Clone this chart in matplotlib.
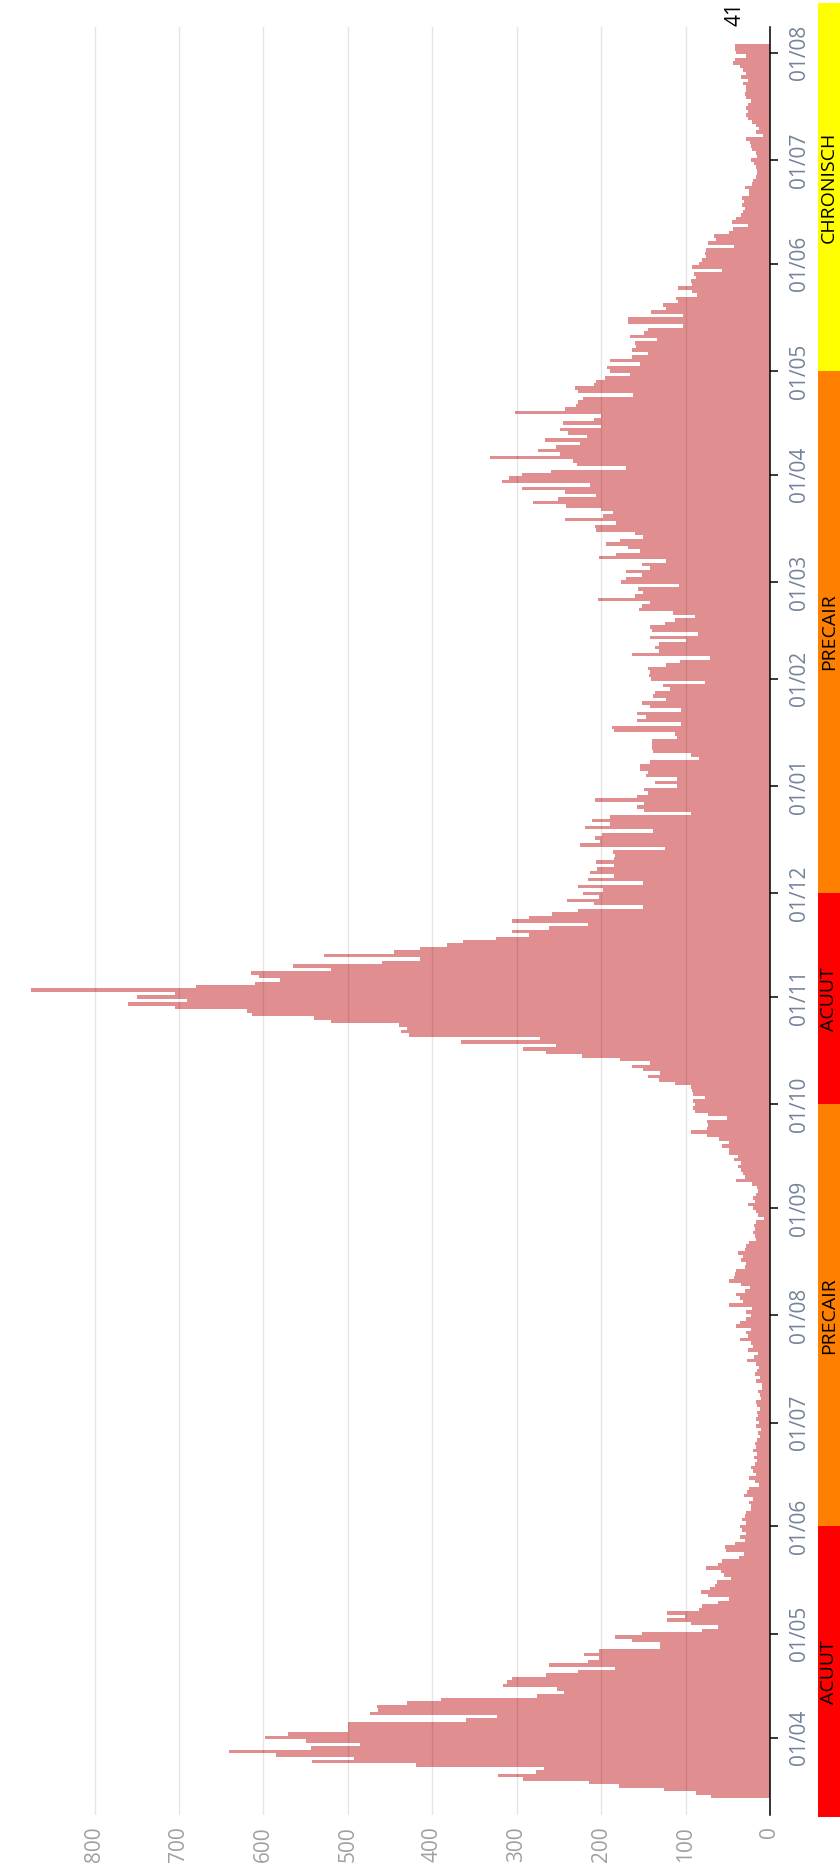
import datetime as dt
import numpy as np
import matplotlib
matplotlib.use("Agg")
import matplotlib.pyplot as plt
import matplotlib.dates as mdates

plt.rcParams['font.family'] = ['Open Sans', 'DejaVu Sans']

# daily new hospital admissions, first value = 15/03/2020
adm_2020_03 = [70, 88, 125, 179, 214, 293, 322, 277, 268, 419, 542, 493, 585, 641, 544, 486, 549]
adm_2020_04 = [598, 571, 500, 500, 500, 360, 323, 474, 464, 466, 430, 390, 276, 244, 252,
               316, 312, 305, 265, 227, 183, 262, 215, 203, 220, 203, 130, 130, 163, 184]
adm_2020_05 = [152, 81, 62, 93, 122, 101, 122, 84, 81, 62, 48, 74, 82, 71, 65, 63,
               46, 55, 58, 76, 62, 57, 37, 31, 52, 53, 42, 30, 35, 29, 33]
adm_2020_06 = [35, 29, 33, 30, 28, 23, 22, 25, 20, 31, 27, 25, 13, 18, 25,
               17, 20, 22, 18, 15, 19, 15, 20, 17, 18, 15, 12, 14, 11, 16]
adm_2020_07 = [13, 17, 14, 15, 12, 15, 17, 11, 12, 14, 9, 10, 16, 12, 18, 15,
               13, 17, 27, 19, 14, 26, 20, 23, 35, 26, 28, 22, 40, 36, 28]
adm_2020_08 = [22, 28, 21, 49, 32, 36, 40, 30, 24, 34, 49, 43, 41, 40, 30, 28,
               34, 32, 38, 30, 29, 25, 16, 18, 20, 18, 19, 16, 7, 14, 17]
adm_2020_09 = [20, 26, 18, 20, 16, 14, 15, 21, 40, 30, 32, 34, 38, 34, 43,
               38, 49, 49, 57, 49, 60, 75, 93, 75, 73, 75, 51, 73, 89, 91]
adm_2020_10 = [89, 91, 77, 91, 92, 93, 113, 131, 144, 130, 151, 164, 142, 178, 223, 265,
               292, 253, 366, 273, 427, 437, 430, 440, 520, 540, 613, 620, 705, 760, 690]
adm_2020_11 = [750, 705, 875, 680, 610, 580, 605, 615, 520, 565, 460, 415, 528, 445, 415,
               382, 364, 325, 286, 305, 262, 215, 305, 286, 258, 227, 151, 209, 240, 203]
adm_2020_12 = [221, 198, 227, 150, 215, 185, 213, 205, 185, 206, 185, 183, 186, 124, 225, 201,
               207, 199, 138, 219, 189, 211, 189, 94, 149, 158, 149, 207, 157, 145, 149]
adm_2021_01 = [110, 136, 110, 147, 145, 154, 154, 142, 84, 94, 138, 140, 140, 140, 110, 112,
               185, 187, 105, 158, 147, 157, 105, 142, 152, 123, 138, 136, 119, 127, 77]
adm_2021_02 = [141, 143, 142, 144, 123, 107, 71, 163, 132, 136, 131, 99, 142, 85,
               140, 142, 124, 113, 89, 115, 155, 152, 142, 204, 160, 150, 156, 108]
adm_2021_03 = [176, 171, 152, 171, 142, 152, 123, 202, 182, 154, 168, 194, 178, 150, 160, 206,
               207, 182, 243, 198, 186, 200, 242, 281, 251, 206, 243, 294, 213, 318, 309]
adm_2021_04 = [294, 259, 171, 229, 233, 332, 249, 275, 254, 225, 266, 217, 239, 249, 200,
               245, 209, 200, 302, 243, 230, 227, 222, 162, 227, 231, 209, 206, 196, 166]
adm_2021_05 = [190, 193, 154, 190, 164, 144, 163, 159, 160, 134, 166, 149, 144, 103, 168, 168,
               103, 141, 123, 127, 109, 111, 86, 92, 109, 92, 94, 88, 90, 57, 92]
adm_2021_06 = [84, 80, 76, 77, 76, 43, 74, 64, 66, 48, 44, 26, 45, 40, 34,
               32, 30, 33, 31, 33, 25, 25, 30, 21, 20, 17, 15, 15, 17, 19]
adm_2021_07 = [23, 15, 17, 21, 23, 24, 28, 8, 17, 13, 17, 21, 26, 28, 26, 28,
               26, 23, 28, 30, 28, 28, 32, 26, 34, 28, 32, 36, 44, 42, 28]
adm_2021_08 = [40, 42, 41]

phase_names = ['ACUUT', 'PRECAIR', 'ACUUT', 'PRECAIR', 'CHRONISCH']
phase_starts = ['2020-03-15', '2020-06-01', '2020-10-01', '2020-12-01', '2021-05-01']
phase_colors = ['#ff0000', '#ff8000', '#ff0000', '#ff8000', '#ffff00']

values = np.array(adm_2020_03 + adm_2020_04 + adm_2020_05 + adm_2020_06 + adm_2020_07
                  + adm_2020_08 + adm_2020_09 + adm_2020_10 + adm_2020_11 + adm_2020_12
                  + adm_2021_01 + adm_2021_02 + adm_2021_03 + adm_2021_04 + adm_2021_05
                  + adm_2021_06 + adm_2021_07 + adm_2021_08)
start = dt.date(2020, 3, 15)
days = [start + dt.timedelta(days=i) for i in range(len(values))]
yd = mdates.date2num(days)

W, H = 840, 1871
fig = plt.figure(figsize=(W / 100, H / 100), dpi=100)
ax = fig.add_axes([0, 56 / H, 770 / W, 1788 / H])
ax.barh(yd, values, height=1.0, color='#e08e8f', linewidth=0)
ax.set_xlim(912, 0)
ax.set_ylim(yd[0] - 5.4, yd[-1] + 5.4)

for s in ['left', 'top', 'bottom']:
    ax.spines[s].set_visible(False)
ax.spines['right'].set_color('black')
ax.spines['right'].set_linewidth(1.1)

ax.yaxis.tick_right()
ax.yaxis.set_major_locator(mdates.MonthLocator(bymonthday=1))
ax.yaxis.set_major_formatter(mdates.DateFormatter('%d/%m'))
ax.tick_params(axis='y', length=6, width=1.1, color='black', pad=8,
               labelsize=15, labelcolor='#74839a', labelrotation=90)
for lab in ax.get_yticklabels():
    lab.set_va('center')

ax.set_xticks(range(0, 900, 100))
ax.tick_params(axis='x', length=0, pad=8, labelsize=15, labelcolor='#a0a0a0',
               labelrotation=90)
ax.grid(axis='x', color='black', alpha=0.1, linewidth=1)
ax.set_axisbelow(False)

ax.annotate(str(values[-1]), xy=(values[-1], 1), xycoords=('data', 'axes fraction'),
            xytext=(0, 1), textcoords='offset points', rotation=90,
            ha='center', va='bottom', fontsize=15, color='black')

# phase band on the right
px_day = 1788 / (yd[-1] - yd[0] + 10.8)
bax = fig.add_axes([818 / W, (H - 1817) / H, 22 / W, 1814 / H])
b0 = yd[0] - 5.4 - 2 / px_day
b1 = yd[-1] + 5.4 + 24 / px_day
bax.set_ylim(b0, b1)
bax.set_xlim(0, 1)
bax.axis('off')
edges = [b0] + [mdates.datestr2num(d) for d in phase_starts[1:]] + [b1]
for i, name in enumerate(phase_names):
    bax.axhspan(edges[i], edges[i + 1], color=phase_colors[i], linewidth=0)
    bax.text(0.5, (edges[i] + edges[i + 1]) / 2, name, rotation=90,
             ha='center', va='center', fontsize=14, color='black')

fig.savefig('out.png', dpi=100)
